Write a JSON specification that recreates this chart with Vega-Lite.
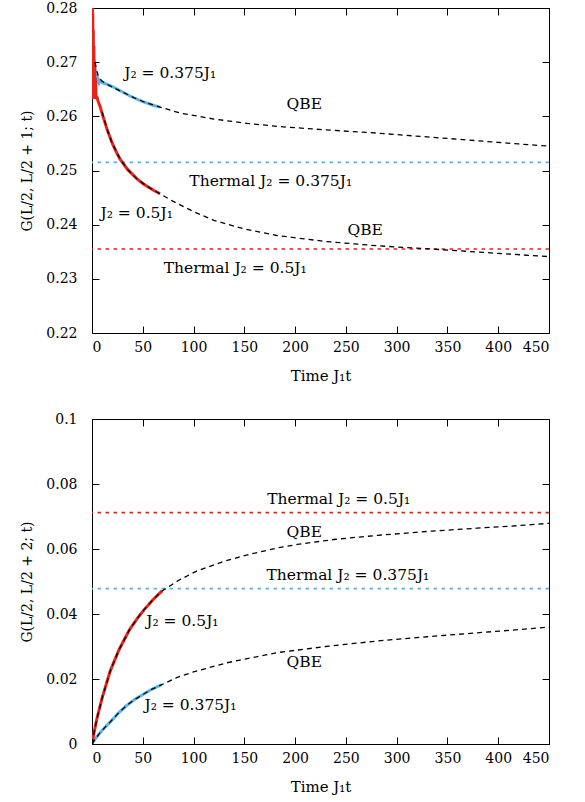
{
  "$schema": "https://vega.github.io/schema/vega-lite/v6.json",
  "background": "white",
  "padding": {"left": 20, "top": 0, "right": 5, "bottom": 5},
  "spacing": 86,
  "bounds": "flush",
  "config": {
    "view": {"stroke": "black", "strokeWidth": 1},
    "font": "DejaVu Serif",
    "axis": {
      "domain": false, "grid": false, "tickColor": "black", "tickSize": -7, "tickWidth": 1,
      "labelFont": "DejaVu Serif", "labelFontSize": 14, "labelColor": "black",
      "titleFont": "DejaVu Serif", "titleFontWeight": "normal", "titleColor": "black", "titleFontSize": 15
    },
    "axisX": {"labelPadding": 14, "titlePadding": 14},
    "axisY": {"labelPadding": 22, "titlePadding": 11}
  },
  "datasets": {
    "topData": [
      {"t": 0, "g": 0.2700, "s": "a"}, {"t": 0.3, "g": 0.2745, "s": "a"}, {"t": 0.6, "g": 0.2672, "s": "a"}, {"t": 0.9, "g": 0.2738, "s": "a"},
      {"t": 1.2, "g": 0.2668, "s": "a"}, {"t": 1.5, "g": 0.2720, "s": "a"}, {"t": 1.8, "g": 0.2665, "s": "a"}, {"t": 2.1, "g": 0.2705, "s": "a"},
      {"t": 2.5, "g": 0.2668, "s": "a"}, {"t": 3, "g": 0.2690, "s": "a"}, {"t": 3.5, "g": 0.2664, "s": "a"}, {"t": 4, "g": 0.2678, "s": "a"},
      {"t": 5, "g": 0.2665, "s": "a"}, {"t": 6, "g": 0.2668, "s": "a"}, {"t": 7, "g": 0.2662, "s": "a"}, {"t": 8, "g": 0.2666, "s": "a"},
      {"t": 10, "g": 0.2662, "s": "a"}, {"t": 12, "g": 0.2661, "s": "a"}, {"t": 15, "g": 0.2659, "s": "a"}, {"t": 20, "g": 0.2655, "s": "a"},
      {"t": 25, "g": 0.2650, "s": "a"}, {"t": 31, "g": 0.2644, "s": "a"}, {"t": 37, "g": 0.2638, "s": "a"}, {"t": 44, "g": 0.2632, "s": "a"},
      {"t": 50, "g": 0.2627, "s": "a"}, {"t": 55, "g": 0.2624, "s": "a"}, {"t": 61, "g": 0.2620, "s": "a"}, {"t": 67, "g": 0.2617, "s": "a"},
      {"t": 0, "g": 0.2850, "s": "b"}, {"t": 0.2, "g": 0.2640, "s": "b"}, {"t": 0.4, "g": 0.2820, "s": "b"}, {"t": 0.6, "g": 0.2635, "s": "b"},
      {"t": 0.8, "g": 0.2790, "s": "b"}, {"t": 1.0, "g": 0.2632, "s": "b"}, {"t": 1.3, "g": 0.2760, "s": "b"}, {"t": 1.6, "g": 0.2636, "s": "b"},
      {"t": 1.9, "g": 0.2730, "s": "b"}, {"t": 2.2, "g": 0.2638, "s": "b"}, {"t": 2.6, "g": 0.2700, "s": "b"}, {"t": 3.0, "g": 0.2640, "s": "b"},
      {"t": 3.5, "g": 0.2670, "s": "b"}, {"t": 4.0, "g": 0.2635, "s": "b"}, {"t": 5, "g": 0.2635, "s": "b"}, {"t": 6, "g": 0.2628, "s": "b"},
      {"t": 8, "g": 0.2618, "s": "b"}, {"t": 10, "g": 0.2605, "s": "b"}, {"t": 12, "g": 0.2593, "s": "b"}, {"t": 15, "g": 0.2575, "s": "b"},
      {"t": 20, "g": 0.2550, "s": "b"}, {"t": 25, "g": 0.2530, "s": "b"}, {"t": 28, "g": 0.2520, "s": "b"}, {"t": 35, "g": 0.2502, "s": "b"},
      {"t": 44, "g": 0.2485, "s": "b"}, {"t": 50, "g": 0.2476, "s": "b"}, {"t": 55, "g": 0.2470, "s": "b"}, {"t": 61, "g": 0.2463, "s": "b"},
      {"t": 67, "g": 0.2457, "s": "b"}
    ],
    "topQBE": [
      {"t": 3, "g": 0.2700, "s": "a"}, {"t": 4, "g": 0.2690, "s": "a"}, {"t": 5, "g": 0.2682, "s": "a"}, {"t": 6, "g": 0.2676, "s": "a"},
      {"t": 8, "g": 0.2669, "s": "a"}, {"t": 10, "g": 0.2665, "s": "a"}, {"t": 15, "g": 0.2659, "s": "a"}, {"t": 20, "g": 0.2654, "s": "a"},
      {"t": 31, "g": 0.2644, "s": "a"}, {"t": 44, "g": 0.2632, "s": "a"}, {"t": 55, "g": 0.2624, "s": "a"}, {"t": 67, "g": 0.2617, "s": "a"},
      {"t": 87, "g": 0.2606, "s": "a"}, {"t": 120, "g": 0.2595, "s": "a"}, {"t": 153, "g": 0.2587, "s": "a"}, {"t": 185, "g": 0.2581, "s": "a"},
      {"t": 230, "g": 0.2575, "s": "a"}, {"t": 281, "g": 0.2569, "s": "a"}, {"t": 330, "g": 0.2562, "s": "a"}, {"t": 379, "g": 0.2555, "s": "a"},
      {"t": 420, "g": 0.2549, "s": "a"}, {"t": 450, "g": 0.2545, "s": "a"},
      {"t": 10, "g": 0.2608, "s": "b"}, {"t": 15, "g": 0.2575, "s": "b"}, {"t": 20, "g": 0.2550, "s": "b"}, {"t": 28, "g": 0.2520, "s": "b"},
      {"t": 35, "g": 0.2502, "s": "b"}, {"t": 44, "g": 0.2485, "s": "b"}, {"t": 55, "g": 0.2470, "s": "b"}, {"t": 67, "g": 0.2457, "s": "b"},
      {"t": 80, "g": 0.2443, "s": "b"}, {"t": 100, "g": 0.2424, "s": "b"}, {"t": 120, "g": 0.2408, "s": "b"}, {"t": 150, "g": 0.2392, "s": "b"},
      {"t": 182, "g": 0.2380, "s": "b"}, {"t": 230, "g": 0.2369, "s": "b"}, {"t": 281, "g": 0.2361, "s": "b"}, {"t": 343, "g": 0.2354, "s": "b"},
      {"t": 400, "g": 0.2347, "s": "b"}, {"t": 450, "g": 0.2341, "s": "b"}
    ],
    "topThermal": [{"g": 0.2515, "s": "a"}, {"g": 0.2355, "s": "b"}],
    "topText": [
      {"t": 77, "g": 0.2680, "label": "J₂ = 0.375J₁"},
      {"t": 209, "g": 0.2623, "label": "QBE"},
      {"t": 176, "g": 0.2481, "label": "Thermal  J₂ = 0.375J₁"},
      {"t": 44, "g": 0.2422, "label": "J₂ = 0.5J₁"},
      {"t": 269, "g": 0.2390, "label": "QBE"},
      {"t": 141, "g": 0.2320, "label": "Thermal  J₂ = 0.5J₁"}
    ],
    "botData": [
      {"t": 0, "g": 0, "s": "a"}, {"t": 3, "g": 0.0015, "s": "a"}, {"t": 8, "g": 0.0035, "s": "a"}, {"t": 13, "g": 0.0052, "s": "a"},
      {"t": 18, "g": 0.0068, "s": "a"}, {"t": 26, "g": 0.0095, "s": "a"}, {"t": 34, "g": 0.0118, "s": "a"}, {"t": 42, "g": 0.0137, "s": "a"},
      {"t": 51, "g": 0.0154, "s": "a"}, {"t": 58, "g": 0.0167, "s": "a"}, {"t": 66, "g": 0.0179, "s": "a"}, {"t": 69, "g": 0.0183, "s": "a"},
      {"t": 0, "g": 0, "s": "b"}, {"t": 2, "g": 0.0035, "s": "b"}, {"t": 5, "g": 0.0080, "s": "b"}, {"t": 10, "g": 0.0142, "s": "b"},
      {"t": 18, "g": 0.0225, "s": "b"}, {"t": 26.6, "g": 0.0290, "s": "b"}, {"t": 37, "g": 0.0352, "s": "b"}, {"t": 45, "g": 0.0388, "s": "b"},
      {"t": 51, "g": 0.0412, "s": "b"}, {"t": 60, "g": 0.0444, "s": "b"}, {"t": 69, "g": 0.0471, "s": "b"}
    ],
    "botQBE": [
      {"t": 0, "g": 0, "s": "a"}, {"t": 3, "g": 0.0015, "s": "a"}, {"t": 8, "g": 0.0035, "s": "a"}, {"t": 13, "g": 0.0052, "s": "a"},
      {"t": 18, "g": 0.0068, "s": "a"}, {"t": 26, "g": 0.0095, "s": "a"}, {"t": 34, "g": 0.0118, "s": "a"}, {"t": 42, "g": 0.0137, "s": "a"},
      {"t": 51, "g": 0.0154, "s": "a"}, {"t": 58, "g": 0.0167, "s": "a"}, {"t": 69, "g": 0.0183, "s": "a"}, {"t": 84, "g": 0.0205, "s": "a"},
      {"t": 100, "g": 0.0222, "s": "a"}, {"t": 133, "g": 0.0250, "s": "a"}, {"t": 182, "g": 0.0281, "s": "a"}, {"t": 230, "g": 0.0300, "s": "a"},
      {"t": 281, "g": 0.0317, "s": "a"}, {"t": 330, "g": 0.0330, "s": "a"}, {"t": 379, "g": 0.0342, "s": "a"}, {"t": 420, "g": 0.0352, "s": "a"},
      {"t": 450, "g": 0.0360, "s": "a"},
      {"t": 0, "g": 0, "s": "b"}, {"t": 2, "g": 0.0035, "s": "b"}, {"t": 5, "g": 0.0080, "s": "b"}, {"t": 10, "g": 0.0142, "s": "b"},
      {"t": 18, "g": 0.0225, "s": "b"}, {"t": 26.6, "g": 0.0290, "s": "b"}, {"t": 37, "g": 0.0352, "s": "b"}, {"t": 45, "g": 0.0388, "s": "b"},
      {"t": 51, "g": 0.0412, "s": "b"}, {"t": 60, "g": 0.0444, "s": "b"}, {"t": 69, "g": 0.0471, "s": "b"}, {"t": 85, "g": 0.0503, "s": "b"},
      {"t": 103, "g": 0.0532, "s": "b"}, {"t": 130, "g": 0.0562, "s": "b"}, {"t": 153, "g": 0.0582, "s": "b"}, {"t": 182, "g": 0.0603, "s": "b"},
      {"t": 202, "g": 0.0614, "s": "b"}, {"t": 240, "g": 0.0630, "s": "b"}, {"t": 281, "g": 0.0642, "s": "b"}, {"t": 330, "g": 0.0654, "s": "b"},
      {"t": 379, "g": 0.0664, "s": "b"}, {"t": 420, "g": 0.0672, "s": "b"}, {"t": 450, "g": 0.0679, "s": "b"}
    ],
    "botThermal": [{"g": 0.0478, "s": "a"}, {"g": 0.0712, "s": "b"}],
    "botText": [
      {"t": 243, "g": 0.0754, "label": "Thermal  J₂ = 0.5J₁"},
      {"t": 209, "g": 0.0652, "label": "QBE"},
      {"t": 252, "g": 0.0520, "label": "Thermal  J₂ = 0.375J₁"},
      {"t": 89, "g": 0.0378, "label": "J₂ = 0.5J₁"},
      {"t": 209, "g": 0.0252, "label": "QBE"},
      {"t": 97, "g": 0.0120, "label": "J₂ = 0.375J₁"}
    ]
  },
  "vconcat": [
    {
      "width": 457, "height": 325,
      "resolve": {"axis": {"x": "independent", "y": "independent"}},
      "layer": [
        {
          "data": {"name": "topThermal"},
          "mark": {"type": "rule", "strokeDash": [3.5, 4.5], "strokeWidth": 1.6},
          "encoding": {
            "y": {"field": "g", "type": "quantitative", "scale": {"domain": [0.22, 0.28], "nice": false}, "axis": null},
            "color": {"field": "s", "type": "nominal", "scale": {"domain": ["a", "b"], "range": ["#56b4e9", "#e8231a"]}, "legend": null}
          }
        },
        {
          "data": {"name": "topData"},
          "mark": {"type": "line", "strokeWidth": 3, "clip": true},
          "encoding": {
            "x": {"field": "t", "type": "quantitative", "scale": {"domain": [0, 450], "nice": false},
                  "axis": {"values": [0, 50, 100, 150, 200, 250, 300, 350, 400, 450], "title": "Time J₁t"}},
            "y": {"field": "g", "type": "quantitative", "scale": {"domain": [0.22, 0.28], "nice": false},
                  "axis": {"values": [0.22, 0.23, 0.24, 0.25, 0.26, 0.27, 0.28], "format": ".2f", "title": "G(L/2, L/2 + 1; t)", "titleFontSize": 14}},
            "color": {"field": "s", "type": "nominal", "scale": {"domain": ["a", "b"], "range": ["#56b4e9", "#e8231a"]}, "legend": null}
          }
        },
        {
          "data": {"name": "topQBE"},
          "mark": {"type": "line", "strokeWidth": 1.3, "strokeDash": [5, 4], "color": "black", "clip": true},
          "encoding": {
            "x": {"field": "t", "type": "quantitative", "axis": null},
            "y": {"field": "g", "type": "quantitative", "axis": null},
            "detail": {"field": "s", "type": "nominal"}
          }
        },
        {
          "data": {"name": "topText"},
          "mark": {"type": "text", "font": "DejaVu Serif", "fontSize": 15.5, "color": "black", "align": "center", "baseline": "middle"},
          "encoding": {
            "x": {"field": "t", "type": "quantitative", "axis": null},
            "y": {"field": "g", "type": "quantitative", "axis": null},
            "text": {"field": "label"}
          }
        },
        {
          "data": {"name": "topQBE"},
          "mark": {"type": "point", "opacity": 0},
          "encoding": {
            "x": {"field": "t", "type": "quantitative", "axis": {"orient": "top", "labels": false, "title": null, "values": [0, 50, 100, 150, 200, 250, 300, 350, 400, 450]}},
            "y": {"field": "g", "type": "quantitative", "axis": {"orient": "right", "labels": false, "title": null, "values": [0.22, 0.23, 0.24, 0.25, 0.26, 0.27, 0.28]}}
          }
        }
      ]
    },
    {
      "width": 457, "height": 325,
      "resolve": {"axis": {"x": "independent", "y": "independent"}},
      "layer": [
        {
          "data": {"name": "botThermal"},
          "mark": {"type": "rule", "strokeDash": [3.5, 4.5], "strokeWidth": 1.6},
          "encoding": {
            "y": {"field": "g", "type": "quantitative", "scale": {"domain": [0, 0.1], "nice": false}, "axis": null},
            "color": {"field": "s", "type": "nominal", "scale": {"domain": ["a", "b"], "range": ["#56b4e9", "#e8231a"]}, "legend": null}
          }
        },
        {
          "data": {"name": "botData"},
          "mark": {"type": "line", "strokeWidth": 3, "clip": true},
          "encoding": {
            "x": {"field": "t", "type": "quantitative", "scale": {"domain": [0, 450], "nice": false},
                  "axis": {"values": [0, 50, 100, 150, 200, 250, 300, 350, 400, 450], "title": "Time J₁t"}},
            "y": {"field": "g", "type": "quantitative", "scale": {"domain": [0, 0.1], "nice": false},
                  "axis": {"values": [0, 0.02, 0.04, 0.06, 0.08, 0.1], "format": "~g", "title": "G(L/2, L/2 + 2; t)", "titleFontSize": 14}},
            "color": {"field": "s", "type": "nominal", "scale": {"domain": ["a", "b"], "range": ["#56b4e9", "#e8231a"]}, "legend": null}
          }
        },
        {
          "data": {"name": "botQBE"},
          "mark": {"type": "line", "strokeWidth": 1.3, "strokeDash": [5, 4], "color": "black", "clip": true},
          "encoding": {
            "x": {"field": "t", "type": "quantitative", "axis": null},
            "y": {"field": "g", "type": "quantitative", "axis": null},
            "detail": {"field": "s", "type": "nominal"}
          }
        },
        {
          "data": {"name": "botText"},
          "mark": {"type": "text", "font": "DejaVu Serif", "fontSize": 15.5, "color": "black", "align": "center", "baseline": "middle"},
          "encoding": {
            "x": {"field": "t", "type": "quantitative", "axis": null},
            "y": {"field": "g", "type": "quantitative", "axis": null},
            "text": {"field": "label"}
          }
        },
        {
          "data": {"name": "botQBE"},
          "mark": {"type": "point", "opacity": 0},
          "encoding": {
            "x": {"field": "t", "type": "quantitative", "axis": {"orient": "top", "labels": false, "title": null, "values": [0, 50, 100, 150, 200, 250, 300, 350, 400, 450]}},
            "y": {"field": "g", "type": "quantitative", "axis": {"orient": "right", "labels": false, "title": null, "values": [0, 0.02, 0.04, 0.06, 0.08, 0.1]}}
          }
        }
      ]
    }
  ]
}
